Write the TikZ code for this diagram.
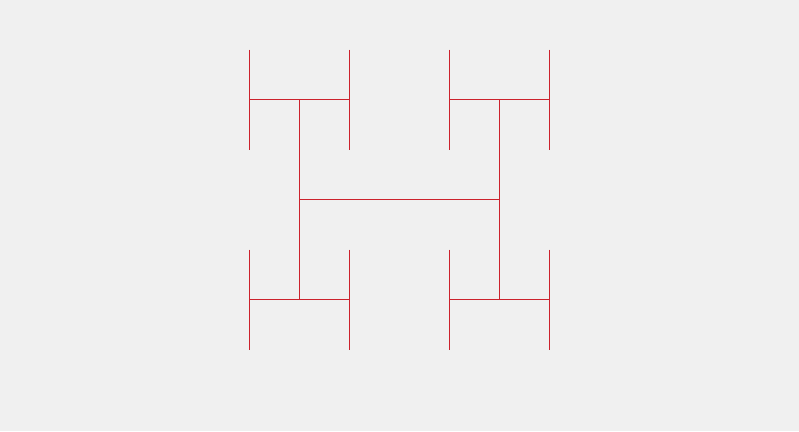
\documentclass[tikz,border=0pt]{standalone}
\begin{document}
\begin{tikzpicture}[x=1pt,y=-1pt]
\definecolor{bgc}{RGB}{240,240,240}
\definecolor{treered}{RGB}{204,34,44}
\tikzset{treeseg/.style={draw=treered,line width=1pt}}
\fill[bgc] (0,0) rectangle (799,431);
\useasboundingbox (0,0) rectangle (799,431);
% level 1
\draw[treeseg] (299.5,199.5) -- (499.5,199.5);
% level 2
\draw[treeseg] (299.5,99.5) -- (299.5,299.5);
\draw[treeseg] (499.5,99.5) -- (499.5,299.5);
% level 3
\draw[treeseg] (249.5,99.5) -- (349.5,99.5);
\draw[treeseg] (449.5,99.5) -- (549.5,99.5);
\draw[treeseg] (249.5,299.5) -- (349.5,299.5);
\draw[treeseg] (449.5,299.5) -- (549.5,299.5);
% level 4
\draw[treeseg] (249.5,49.5) -- (249.5,149.5);
\draw[treeseg] (349.5,49.5) -- (349.5,149.5);
\draw[treeseg] (449.5,49.5) -- (449.5,149.5);
\draw[treeseg] (549.5,49.5) -- (549.5,149.5);
\draw[treeseg] (249.5,249.5) -- (249.5,349.5);
\draw[treeseg] (349.5,249.5) -- (349.5,349.5);
\draw[treeseg] (449.5,249.5) -- (449.5,349.5);
\draw[treeseg] (549.5,249.5) -- (549.5,349.5);
\end{tikzpicture}
\end{document}
